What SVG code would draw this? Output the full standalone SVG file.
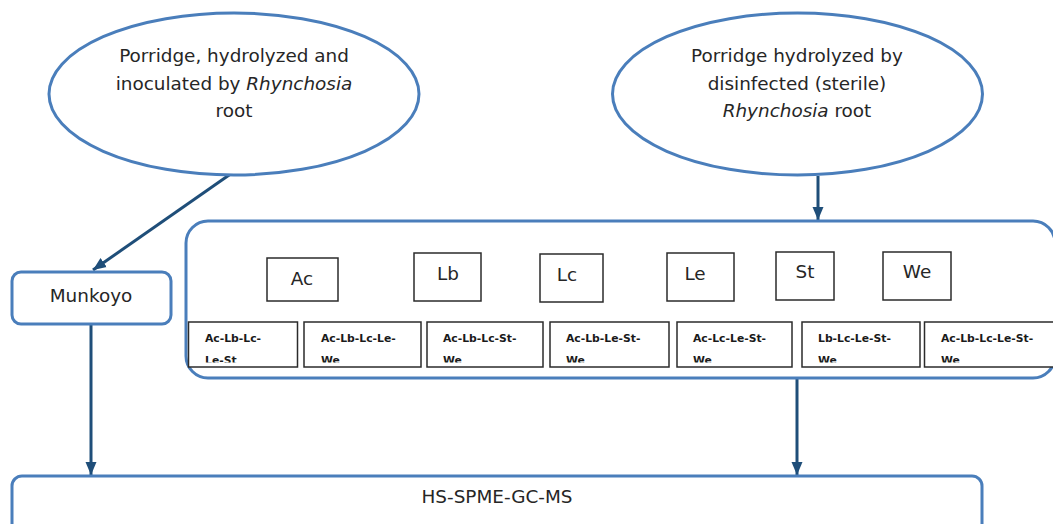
<svg xmlns="http://www.w3.org/2000/svg" width="1053" height="524" viewBox="0 0 1053 524">
  <style>
    .shape { fill: #ffffff; stroke: #4a7ebb; stroke-width: 3; }
    .item { fill: #ffffff; stroke: #2b2b2b; stroke-width: 1.5; }
    .label { font-family: "DejaVu Sans", Verdana, sans-serif; font-size: 18.4px; fill: #262626; text-anchor: middle; }
    .mix { font-family: "DejaVu Sans", Verdana, sans-serif; font-size: 10.8px; font-weight: bold; fill: #1a1a1a; }
    .link { stroke: #1f4e79; stroke-width: 3; fill: none; marker-end: url(#arrow); }
  </style>
  <defs>
    <marker id="arrow" markerUnits="userSpaceOnUse" markerWidth="14" markerHeight="14" viewBox="0 0 14 14" refX="13" refY="7" orient="auto">
      <path d="M0,1.5 L13,7 L0,12.5 Z" fill="#1f4e79"/>
    </marker>
    <clipPath id="rowClip">
      <rect x="186" y="321" width="870" height="41.5"/>
    </clipPath>
  </defs>

  <rect width="1053" height="524" fill="#ffffff"/>

  <!-- connectors -->
  <g id="connectors">
    <line class="link" x1="232" y1="173" x2="93" y2="270"/>
    <line class="link" x1="818" y1="176" x2="818" y2="220"/>
    <line class="link" x1="91" y1="319" x2="91" y2="475"/>
    <line class="link" x1="797" y1="379" x2="797" y2="475"/>
  </g>

  <!-- inoculated porridge -->
  <g id="node-inoculated">
    <ellipse class="shape" cx="234" cy="94" rx="185" ry="81"/>
    <text class="label" x="234" y="62">Porridge, hydrolyzed and</text>
    <text class="label" x="234" y="90">inoculated by <tspan font-style="italic">Rhynchosia</tspan></text>
    <text class="label" x="234" y="117">root</text>
  </g>

  <!-- sterile porridge -->
  <g id="node-sterile">
    <ellipse class="shape" cx="797.5" cy="94" rx="185" ry="81"/>
    <text class="label" x="797" y="62">Porridge hydrolyzed by</text>
    <text class="label" x="797" y="90">disinfected (sterile)</text>
    <text class="label" x="797" y="117"><tspan font-style="italic">Rhynchosia</tspan> root</text>
  </g>

  <!-- Munkoyo -->
  <g id="node-munkoyo">
    <rect class="shape" x="12" y="272" width="159" height="52" rx="9"/>
    <text class="label" x="91" y="302">Munkoyo</text>
  </g>

  <!-- strain panel -->
  <g id="node-strains">
    <rect class="shape" x="186" y="221" width="869" height="157" rx="22"/>

    <g id="strain-ac"><rect class="item" x="267" y="258" width="71" height="43"/><text class="label" x="302" y="285">Ac</text></g>
    <g id="strain-lb"><rect class="item" x="414" y="253" width="67" height="48"/><text class="label" x="448" y="280">Lb</text></g>
    <g id="strain-lc"><rect class="item" x="540" y="254" width="63" height="48"/><text class="label" x="567" y="281">Lc</text></g>
    <g id="strain-le"><rect class="item" x="667" y="253" width="67" height="48"/><text class="label" x="695" y="280">Le</text></g>
    <g id="strain-st"><rect class="item" x="776" y="252" width="58" height="48"/><text class="label" x="805" y="278">St</text></g>
    <g id="strain-we"><rect class="item" x="883" y="252" width="68" height="48"/><text class="label" x="917" y="278">We</text></g>

    <g id="mix-boxes">
      <rect class="item" x="188.5" y="322" width="109" height="45"/>
      <rect class="item" x="304" y="322" width="117" height="45"/>
      <rect class="item" x="427" y="322" width="116" height="45"/>
      <rect class="item" x="550" y="322" width="119" height="45"/>
      <rect class="item" x="677" y="322" width="115" height="45"/>
      <rect class="item" x="802" y="322" width="118" height="45"/>
      <rect class="item" x="924.5" y="322" width="132" height="45"/>
    </g>
    <g id="mix-labels" clip-path="url(#rowClip)">
      <text class="mix" x="205" y="342">Ac-Lb-Lc-</text><text class="mix" x="205" y="364">Le-St</text>
      <text class="mix" x="321" y="342">Ac-Lb-Lc-Le-</text><text class="mix" x="321" y="364">We</text>
      <text class="mix" x="443" y="342">Ac-Lb-Lc-St-</text><text class="mix" x="443" y="364">We</text>
      <text class="mix" x="566" y="342">Ac-Lb-Le-St-</text><text class="mix" x="566" y="364">We</text>
      <text class="mix" x="693" y="342">Ac-Lc-Le-St-</text><text class="mix" x="693" y="364">We</text>
      <text class="mix" x="818" y="342">Lb-Lc-Le-St-</text><text class="mix" x="818" y="364">We</text>
      <text class="mix" x="941" y="342">Ac-Lb-Lc-Le-St-</text><text class="mix" x="941" y="364">We</text>
    </g>
  </g>

  <!-- analysis -->
  <g id="node-analysis">
    <rect class="shape" x="12" y="476" width="970" height="70" rx="10"/>
    <text class="label" x="497" y="503" font-size="19.5">HS-SPME-GC-MS</text>
  </g>
</svg>
